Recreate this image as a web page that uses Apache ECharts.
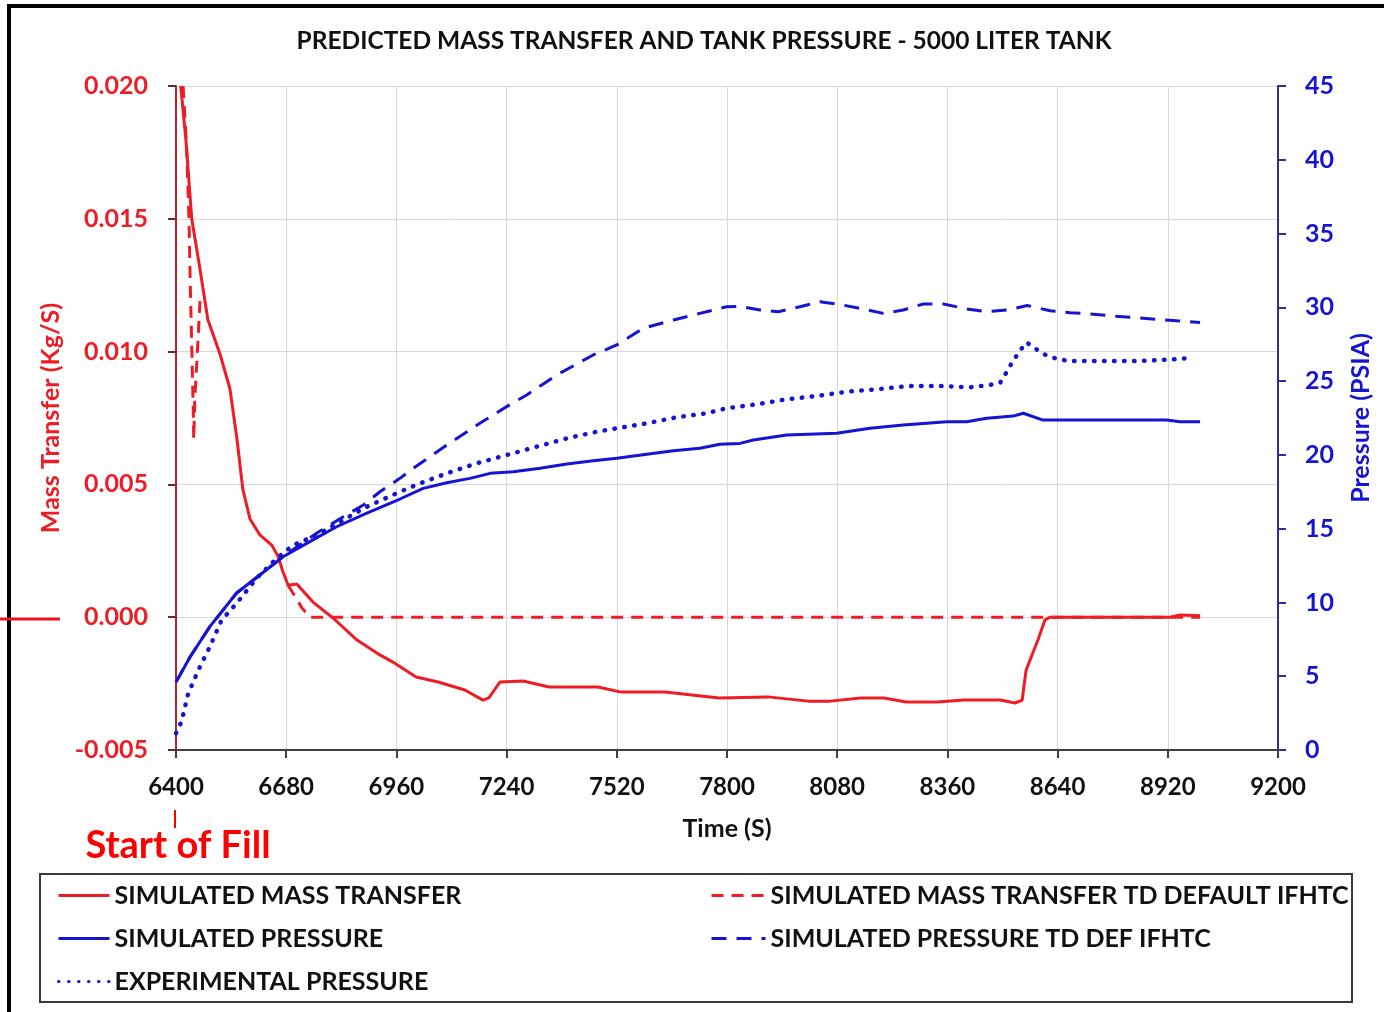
<!DOCTYPE html>
<html><head><meta charset="utf-8">
<script src="https://cdn.jsdelivr.net/npm/echarts@6/dist/echarts.min.js"></script>
<style>html,body{margin:0;padding:0;background:#fff}#c{width:1384px;height:1012px}</style>
</head><body><div id="c"></div>
<script>
// ---- tick labels ----
const timeTicks = [6400, 6680, 6960, 7240, 7520, 7800, 8080, 8360, 8640, 8920, 9200];
const massTicks = [-0.005, 0.000, 0.005, 0.010, 0.015, 0.020];
const pressureTicks = [0, 5, 10, 15, 20, 25, 30, 35, 40, 45];

// ---- SIMULATED MASS TRANSFER (kg/s) ----
const massTime = [6412, 6425, 6440, 6461, 6481, 6512, 6537, 6555, 6570, 6588, 6613, 6644, 6659, 6672, 6685, 6707, 6748, 6799, 6860, 6918, 6951, 7010, 7066, 7134, 7180, 7195, 7223, 7282, 7348, 7472, 7531, 7642, 7780, 7904, 8006, 8062, 8140, 8199, 8255, 8334, 8402, 8494, 8532, 8550, 8560, 8590, 8608, 8621, 8926, 8951, 9002];
const massValue = [0.0200, 0.0180, 0.0150, 0.0131, 0.0112, 0.0099, 0.0086, 0.0067, 0.0048, 0.0037, 0.0031, 0.0027, 0.0023, 0.0017, 0.0012, 0.00125, 0.00057, -0.00003, -0.00086, -0.00142, -0.00169, -0.00225, -0.00244, -0.00274, -0.00312, -0.00304, -0.00244, -0.00240, -0.00263, -0.00263, -0.00282, -0.00282, -0.00304, -0.00300, -0.00316, -0.00316, -0.00304, -0.00304, -0.00319, -0.00319, -0.00312, -0.00312, -0.00323, -0.00312, -0.00199, -0.00086, -0.00010, 0.0, 0.0, 0.00008, 0.00005];

// ---- SIMULATED MASS TRANSFER TD DEFAULT IFHTC (kg/s) ----
const massTdTime = [6418, 6427, 6433, 6436, 6440, 6444, 6445, 6448, 6453, 6461, 6560, 6685, 6720, 6740, 9002];
const massTdValue = [0.0200, 0.0177, 0.0150, 0.0127, 0.0102, 0.0077, 0.0067, 0.0083, 0.0096, 0.0119, null, 0.0012, 0.00035, 0.0, 0.0];

// ---- SIMULATED PRESSURE (psia) ----
const presTime = [6400, 6436, 6486, 6554, 6613, 6672, 6740, 6808, 6885, 6969, 7028, 7088, 7147, 7198, 7257, 7325, 7393, 7460, 7520, 7596, 7664, 7731, 7782, 7833, 7867, 7952, 8079, 8163, 8248, 8358, 8409, 8460, 8527, 8553, 8603, 8917, 8951, 9002];
const presValue = [4.6, 6.32, 8.36, 10.64, 11.86, 13.10, 14.12, 15.13, 16.06, 17.01, 17.73, 18.11, 18.41, 18.75, 18.86, 19.09, 19.38, 19.61, 19.77, 20.04, 20.28, 20.45, 20.72, 20.78, 21.01, 21.35, 21.46, 21.80, 22.03, 22.25, 22.25, 22.48, 22.63, 22.82, 22.36, 22.36, 22.25, 22.25];

// ---- SIMULATED PRESSURE TD DEF IFHTC (psia) ----
const presTdTime = [6400, 6436, 6486, 6554, 6613, 6672, 6758, 6825, 6876, 6918, 6969, 7003, 7088, 7172, 7240, 7291, 7367, 7460, 7520, 7587, 7664, 7731, 7799, 7833, 7884, 7930, 7985, 8036, 8079, 8138, 8197, 8248, 8299, 8350, 8409, 8460, 8511, 8563, 8621, 8672, 8731, 8782, 8841, 8892, 8943, 9002];
const presTdValue = [4.6, 6.32, 8.36, 10.64, 11.86, 13.10, 14.71, 15.81, 16.60, 17.50, 18.41, 19.09, 20.67, 22.14, 23.27, 24.06, 25.41, 26.77, 27.45, 28.58, 29.14, 29.59, 30.04, 30.06, 29.82, 29.70, 30.04, 30.38, 30.23, 29.93, 29.59, 29.82, 30.23, 30.23, 29.89, 29.70, 29.82, 30.12, 29.77, 29.64, 29.53, 29.41, 29.30, 29.19, 29.09, 28.98];

// ---- EXPERIMENTAL PRESSURE (psia) ----
const expTime = [6400, 6414, 6431, 6461, 6486, 6516, 6554, 6605, 6656, 6698, 6758, 6825, 6885, 6969, 7020, 7088, 7164, 7240, 7316, 7393, 7469, 7520, 7596, 7672, 7748, 7799, 7876, 7952, 8028, 8104, 8180, 8261, 8341, 8417, 8468, 8494, 8506, 8519, 8533, 8549, 8561, 8583, 8604, 8628, 8654, 8680, 8756, 8832, 8887, 8938, 8966];
const expValue = [1.13, 1.92, 3.84, 5.65, 7.00, 8.81, 9.94, 11.64, 12.99, 13.89, 14.57, 15.59, 16.49, 17.50, 18.07, 18.75, 19.43, 19.99, 20.55, 21.12, 21.57, 21.80, 22.14, 22.55, 22.82, 23.16, 23.43, 23.77, 23.99, 24.28, 24.44, 24.67, 24.67, 24.58, 24.74, 24.89, 25.41, 26.02, 26.61, 27.22, 27.63, 27.22, 26.84, 26.59, 26.43, 26.36, 26.36, 26.36, 26.41, 26.48, 26.54];

const names = ['SIMULATED MASS TRANSFER', 'SIMULATED MASS TRANSFER TD DEFAULT IFHTC', 'SIMULATED PRESSURE', 'SIMULATED PRESSURE TD DEF IFHTC', 'EXPERIMENTAL PRESSURE'];

// x axis is drawn as offset from first tick so ticks start exactly at 6400
const X0 = timeTicks[0];
const pairs = (ts, vs) => ts.map((t, i) => [t - X0, vs[i] === null ? '-' : vs[i]]);

const FONT = 'Lato';
const RED = '#EE1C25', BLUE = '#1414D2';

const chart = echarts.init(document.getElementById('c'), null, {renderer: 'canvas'});
const legendText = {fontFamily: FONT, fontSize: 25, fontWeight: 'bold', color: '#111'};
const hiddenSymbol = {color: 'rgba(0,0,0,0)', borderColor: 'rgba(0,0,0,0)', borderWidth: 0};
const option = {
  backgroundColor: '#ffffff',
  animation: false,
  title: {
    text: 'PREDICTED MASS TRANSFER AND TANK PRESSURE - 5000 LITER TANK',
    left: 699, top: 24, textAlign: 'center',
    textStyle: {fontFamily: FONT, fontSize: 24.5, fontWeight: 'bold', color: '#111'}
  },
  grid: {left: 176, right: 106, top: 86, bottom: 262},
  xAxis: {
    type: 'value', min: 0, max: timeTicks[timeTicks.length - 1] - X0, interval: timeTicks[1] - timeTicks[0],
    name: 'Time (S)', nameLocation: 'middle', nameGap: 66,
    nameTextStyle: {fontFamily: FONT, fontSize: 25, fontWeight: 'bold', color: '#111'},
    axisLine: {show: true, onZero: false, lineStyle: {color: '#404040', width: 2}},
    axisTick: {show: true, length: 8, lineStyle: {color: '#404040', width: 2}},
    axisLabel: {margin: 25, fontFamily: FONT, fontSize: 24, fontWeight: 'bold', color: '#111', formatter: v => String(v + X0)},
    splitLine: {show: true, lineStyle: {color: '#d9d9d9', width: 1}}
  },
  yAxis: [{
    type: 'value', min: massTicks[0], max: massTicks[massTicks.length - 1], interval: 0.005,
    name: 'Mass Transfer (Kg/S)', nameLocation: 'middle', nameGap: 112, nameRotate: 90,
    nameTextStyle: {fontFamily: FONT, fontSize: 25, fontWeight: 'bold', color: RED},
    axisLine: {show: true, onZero: false, lineStyle: {color: '#B8242C', width: 2}},
    axisTick: {show: true, length: 8, lineStyle: {color: '#6a2a2a', width: 2}},
    axisLabel: {margin: 28, fontFamily: FONT, fontSize: 25, fontWeight: 'bold', color: RED, formatter: v => v.toFixed(3)},
    splitLine: {show: true, lineStyle: {color: '#d9d9d9', width: 1}}
  }, {
    type: 'value', min: pressureTicks[0], max: pressureTicks[pressureTicks.length - 1], interval: pressureTicks[1] - pressureTicks[0],
    position: 'right',
    name: 'Pressure (PSIA)', nameLocation: 'middle', nameGap: 70, nameRotate: 90,
    nameTextStyle: {fontFamily: FONT, fontSize: 25, fontWeight: 'bold', color: BLUE},
    axisLine: {show: true, onZero: false, lineStyle: {color: '#2E2E9E', width: 2}},
    axisTick: {show: true, length: 8, lineStyle: {color: '#2E2E9E', width: 2}},
    axisLabel: {margin: 27, fontFamily: FONT, fontSize: 25, fontWeight: 'bold', color: BLUE},
    splitLine: {show: false}
  }],
  legend: [{
    data: [names[0], names[2], names[4]], orient: 'vertical', left: 52, top: 878,
    itemWidth: 51, itemHeight: 14, itemGap: 18, selectedMode: false, textStyle: legendText,
    itemStyle: hiddenSymbol, lineStyle: {width: 3}
  }, {
    data: [names[1], names[3]], orient: 'vertical', left: 705, top: 878,
    itemWidth: 54, itemHeight: 14, itemGap: 18, selectedMode: false, textStyle: legendText,
    itemStyle: hiddenSymbol, lineStyle: {width: 3}
  }],
  series: [{
    name: names[0], type: 'line', yAxisIndex: 0, data: pairs(massTime, massValue),
    symbol: 'none', lineStyle: {color: RED, width: 3}, itemStyle: {color: RED}, z: 3
  }, {
    name: names[1], type: 'line', yAxisIndex: 0, data: pairs(massTdTime, massTdValue), connectNulls: false,
    symbol: 'none', lineStyle: {color: RED, width: 3, type: [12, 8]}, itemStyle: {color: RED}, z: 3
  }, {
    name: names[2], type: 'line', yAxisIndex: 1, data: pairs(presTime, presValue),
    symbol: 'none', lineStyle: {color: BLUE, width: 3}, itemStyle: {color: BLUE}, z: 4
  }, {
    name: names[3], type: 'line', yAxisIndex: 1, data: pairs(presTdTime, presTdValue),
    symbol: 'none', lineStyle: {color: BLUE, width: 3, type: [15, 10]}, itemStyle: {color: BLUE}, z: 4
  }, {
    name: names[4], type: 'line', yAxisIndex: 1, data: pairs(expTime, expValue),
    symbol: 'none', lineStyle: {color: BLUE, width: 4.5, type: [0.5, 9.5], cap: 'round'}, itemStyle: {color: BLUE}, z: 4
  }]
};
chart.setOption(option);

// annotations positioned from the axis scale
const startX = chart.convertToPixel({xAxisIndex: 0}, 0);
chart.setOption({
  graphic: [
    {type: 'rect', shape: {x: 9, y: 6, width: 1420, height: 1100}, style: {fill: 'none', stroke: '#000', lineWidth: 4}, silent: true},
    {type: 'rect', shape: {x: 40, y: 874, width: 1312, height: 128}, style: {fill: 'none', stroke: '#3a3a3a', lineWidth: 2}, silent: true},
    {type: 'line', shape: {x1: 0, y1: 619, x2: 60, y2: 619}, style: {stroke: '#E8141C', lineWidth: 3}, silent: true},
    {type: 'line', shape: {x1: startX - 1, y1: 810, x2: startX - 1, y2: 828}, style: {stroke: '#FF0000', lineWidth: 2}, silent: true},
    {type: 'text', x: startX + 2, y: 846, style: {text: 'Start of Fill', fill: '#FF0000', font: 'bold 38px ' + FONT, textAlign: 'center', textVerticalAlign: 'middle'}, silent: true}
  ]
});
</script>
</body></html>
